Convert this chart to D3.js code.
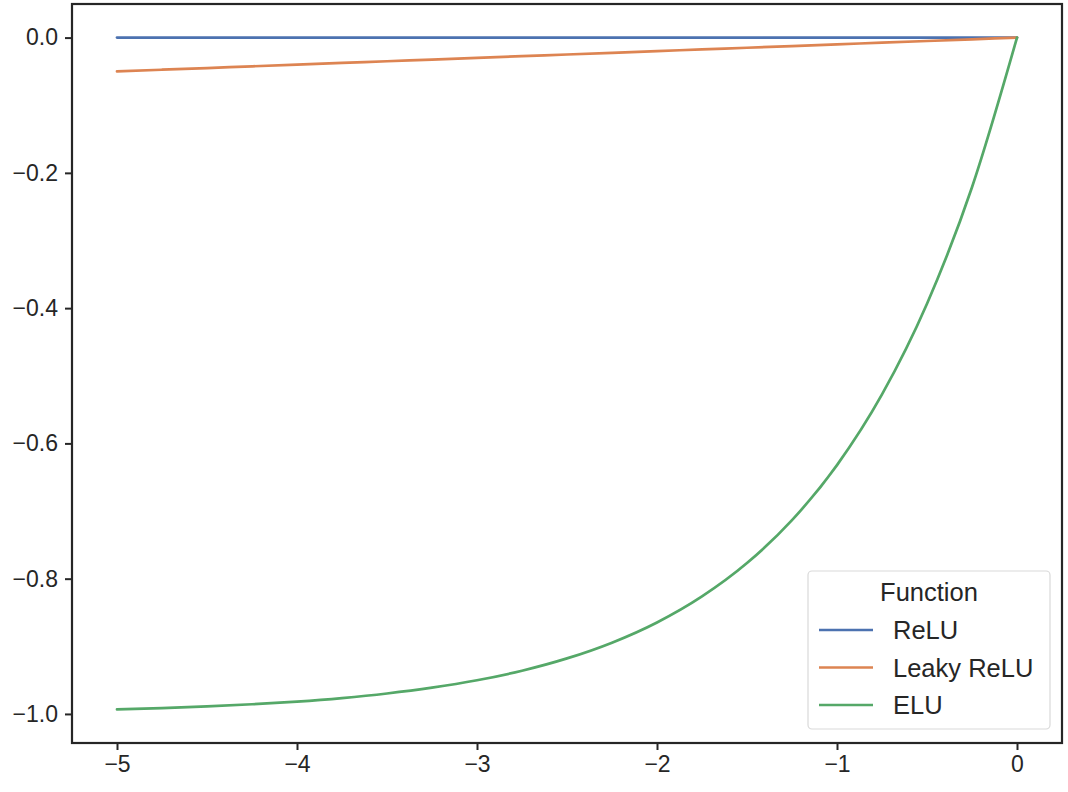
<!DOCTYPE html>
<html><head><meta charset="utf-8">
<script src="https://cdn.jsdelivr.net/npm/d3@7"></script>
<style>body{margin:0;background:#fff}svg{display:block}text{font-family:Arial,"Liberation Sans",sans-serif;fill:#262626}</style>
</head><body><svg id="c" width="1068" height="792"></svg>
<script>
const xValues = [-5,-4.75,-4.5,-4.25,-4,-3.75,-3.5,-3.25,-3,-2.75,-2.5,-2.25,-2,-1.75,-1.5,-1.25,-1,-0.75,-0.5,-0.25,0];
const reluValues = [0,0,0,0,0,0,0,0,0,0,0,0,0,0,0,0,0,0,0,0,0];
const leakyValues = [-0.05,-0.0475,-0.045,-0.0425,-0.04,-0.0375,-0.035,-0.0325,-0.03,-0.0275,-0.025,-0.0225,-0.02,-0.0175,-0.015,-0.0125,-0.01,-0.0075,-0.005,-0.0025,0];
const eluValues = [-0.9933,-0.9913,-0.9889,-0.9857,-0.9817,-0.9765,-0.9698,-0.9612,-0.9502,-0.9361,-0.9179,-0.8946,-0.8647,-0.8262,-0.7769,-0.7135,-0.6321,-0.5276,-0.3935,-0.2212,0];
const seriesNames = ["ReLU","Leaky ReLU","ELU"];
const seriesColors = ["#4c72b0","#dd8452","#55a868"];
const xTicks = [-5,-4,-3,-2,-1,0];
const yTicks = [0,-0.2,-0.4,-0.6,-0.8,-1.0];
const legendTitle = "Function";

const svg = d3.select("#c");
const L=72,T=4,R=1062,B=743;
const x = d3.scaleLinear().domain([-5.25,0.25]).range([L,R]);
const y = d3.scaleLinear().domain([-1.04297,0.04967]).range([B,T]);
const fmt = d => d3.format(".1f")(d).replace("-","\u2212");

const gx = svg.append("g").attr("transform",`translate(0,${B})`)
  .call(d3.axisBottom(x).tickValues(xTicks).tickSize(7).tickPadding(6).tickFormat(d=>String(d).replace("-","\u2212")));
const gy = svg.append("g").attr("transform",`translate(${L},0)`)
  .call(d3.axisLeft(y).tickValues(yTicks).tickSize(7).tickPadding(7).tickFormat(fmt));
[gx,gy].forEach(g=>{g.select(".domain").remove();g.selectAll("line").attr("stroke","#262626").attr("stroke-width",2);g.selectAll("text").attr("font-size",23).style("fill","#262626");});

const series=[reluValues,leakyValues,eluValues];
const line=d3.line().x((d,i)=>x(xValues[i])).y(d=>y(d)).curve(d3.curveMonotoneX);
series.forEach((s,i)=>svg.append("path").datum(s).attr("d",line).attr("fill","none").attr("stroke",seriesColors[i]).attr("stroke-width",2.7).attr("stroke-linecap","round"));

svg.append("rect").attr("x",L).attr("y",T).attr("width",R-L).attr("height",B-T).attr("fill","none").attr("stroke","#262626").attr("stroke-width",2.2);

const lg=svg.append("g");
lg.append("rect").attr("x",808).attr("y",571).attr("width",242).attr("height",158).attr("rx",4).attr("fill","#fff").attr("fill-opacity",0.8).attr("stroke","#d9d9d9").attr("stroke-width",1.2);
lg.append("text").attr("x",929).attr("y",601).attr("text-anchor","middle").attr("font-size",25.5).text(legendTitle);
seriesNames.forEach((n,i)=>{
  const yy=630+i*37.5;
  lg.append("line").attr("x1",819).attr("x2",873).attr("y1",yy).attr("y2",yy).attr("stroke",seriesColors[i]).attr("stroke-width",2.7);
  lg.append("text").attr("x",893).attr("y",yy+9).attr("font-size",25.5).text(n);
});
</script></body></html>
